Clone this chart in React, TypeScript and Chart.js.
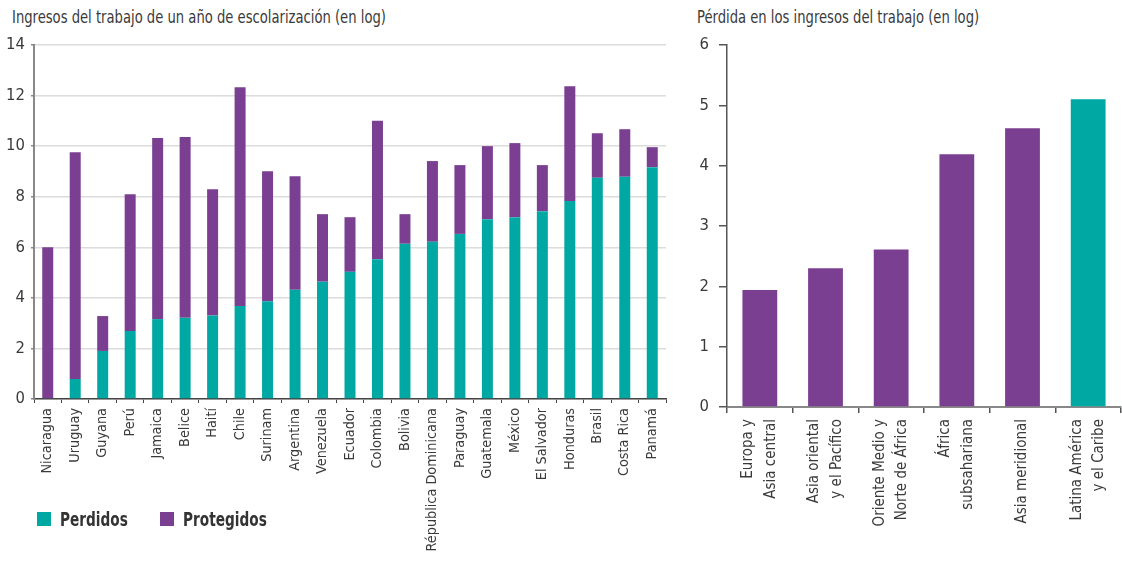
import React, { useEffect, useRef } from "react";
import { Chart, registerables } from "chart.js";

Chart.register(...registerables);

const countries = [
  "Nicaragua", "Uruguay", "Guyana", "Perú", "Jamaica", "Belice", "Haití", "Chile",
  "Surinam", "Argentina", "Venezuela", "Ecuador", "Colombia", "Bolivia",
  "Républica Dominicana", "Paraguay", "Guatemala", "México", "El Salvador",
  "Honduras", "Brasil", "Costa Rica", "Panamá",
];
const perdidos = [0, 0.79, 1.9, 2.69, 3.16, 3.21, 3.3, 3.68, 3.87, 4.32, 4.64, 5.03, 5.53, 6.14, 6.22, 6.53, 7.11, 7.19, 7.43, 7.83, 8.75, 8.79, 9.17];
const protegidos = [6.0, 8.97, 1.38, 5.41, 7.16, 7.15, 5.0, 8.65, 5.14, 4.49, 2.67, 2.16, 5.47, 1.17, 3.19, 2.72, 2.89, 2.93, 1.82, 4.54, 1.76, 1.88, 0.79];

const regions = [
  ["Europa y", "Asia central"],
  ["Asia oriental", "y el Pacífico"],
  ["Oriente Medio y", "Norte de África"],
  ["África", "subsahariana"],
  ["Asia meridional"],
  ["Latina América", "y el Caribe"],
];
const perdida = [1.94, 2.3, 2.61, 4.19, 4.62, 5.1];
const highlightIndex = [5];

const leftTitle = "Ingresos del trabajo de un año de escolarización (en log)";
const rightTitle = "Pérdida en los ingresos del trabajo (en log)";

const TEAL = "#00A8A3";
const PURPLE = "#7A3F91";
const TEXT = "#3a3a3a";
const FONT = "'Liberation Sans Narrow', 'DejaVu Sans Condensed', 'Roboto Condensed', Roboto, sans-serif";
const RIGHT_LABEL_SIZE = 15;
const RIGHT_LABEL_LH = 1.5;

export default function App() {
  const leftRef = useRef<HTMLCanvasElement>(null);
  const rightRef = useRef<HTMLCanvasElement>(null);

  useEffect(() => {
    const left = new Chart(leftRef.current!, {
      type: "bar",
      data: {
        labels: countries,
        datasets: [
          { label: "Perdidos", data: perdidos, backgroundColor: TEAL, barPercentage: 0.4, categoryPercentage: 1 },
          { label: "Protegidos", data: protegidos, backgroundColor: PURPLE, barPercentage: 0.4, categoryPercentage: 1 },
        ],
      },
      options: {
        animation: false,
        responsive: false,
        layout: { padding: { top: 45, left: 0, right: 14, bottom: 0 } },
        plugins: { legend: { display: false }, tooltip: { enabled: false }, title: { display: false } },
        scales: {
          x: {
            stacked: true,
            grid: { display: true, drawOnChartArea: false, offset: true, tickLength: 4, color: "#444", lineWidth: 1 },
            border: { display: true, color: "#444", width: 1.5 },
            ticks: { color: TEXT, font: { family: FONT, size: 14.3 }, minRotation: 90, maxRotation: 90, autoSkip: false, padding: 5 },
            afterFit: (s: any) => { s.height = 162; s.paddingLeft = 0; s.paddingRight = 0; },
          },
          y: {
            stacked: true,
            min: 0,
            max: 14,
            grid: { color: "#dcdcdc", lineWidth: 1.5, tickLength: 3, tickColor: "#888" },
            border: { display: true, color: "#888", width: 2 },
            ticks: { stepSize: 2, color: TEXT, font: { family: FONT, size: 16.5 }, padding: 6 },
            afterFit: (s: any) => { s.width = 34; },
          },
        },
      },
    });

    const right = new Chart(rightRef.current!, {
      type: "bar",
      data: {
        labels: regions as any,
        datasets: [
          {
            label: "Pérdida",
            data: perdida,
            backgroundColor: perdida.map((_, i) => (highlightIndex.includes(i) ? TEAL : PURPLE)),
            barPercentage: 0.53,
            categoryPercentage: 1,
          },
        ],
      },
      options: {
        animation: false,
        responsive: false,
        layout: { padding: { top: 45, left: 0, right: 1, bottom: 0 } },
        plugins: { legend: { display: false }, tooltip: { enabled: false }, title: { display: false } },
        scales: {
          x: {
            grid: { display: true, drawOnChartArea: false, offset: true, tickLength: 6, color: "#555", lineWidth: 1.5 },
            border: { display: true, color: "#888", width: 2 },
            ticks: {
              color: TEXT,
              font: { family: FONT, size: RIGHT_LABEL_SIZE, lineHeight: RIGHT_LABEL_LH },
              minRotation: 90,
              maxRotation: 90,
              autoSkip: false,
              padding: 6,
            },
            afterFit: (s: any) => { s.height = 154; s.paddingLeft = 0; s.paddingRight = 0; },
            afterUpdate: (s: any) => {
              if (s.__centered) return;
              s.__centered = true;
              const orig = s._computeLabelItems.bind(s);
              s._computeLabelItems = (ca: any) => {
                const items = orig(ca);
                const lh = RIGHT_LABEL_SIZE * RIGHT_LABEL_LH;
                items.forEach((it: any) => {
                  const n = Array.isArray(it.label) ? it.label.length : 1;
                  if (n > 1 && it.options && it.options.translation) {
                    const [tx, ty] = it.options.translation;
                    it.options.translation = [tx - ((n - 1) * lh) / 2, ty];
                  }
                });
                return items;
              };
            },
          },
          y: {
            min: 0,
            max: 6,
            grid: { display: true, drawOnChartArea: false, tickLength: 8, color: "#555", lineWidth: 1.5 },
            border: { display: true, color: "#555", width: 1.5 },
            ticks: { stepSize: 1, color: TEXT, font: { family: FONT, size: 16.5 }, padding: 10 },
            afterFit: (s: any) => { s.width = 47; },
          },
        },
      },
    });

    return () => {
      left.destroy();
      right.destroy();
    };
  }, []);

  const titleStyle: React.CSSProperties = {
    position: "absolute",
    top: 6,
    fontFamily: FONT,
    fontSize: 17,
    color: TEXT,
    whiteSpace: "nowrap",
    lineHeight: "22px",
    transform: "scaleX(0.86)",
    transformOrigin: "left top",
  };
  const legendItem: React.CSSProperties = {
    position: "absolute",
    top: 507,
    display: "flex",
    alignItems: "center",
    fontFamily: FONT,
    fontWeight: "bold",
    fontSize: 19,
    color: "#333",
    whiteSpace: "nowrap",
    lineHeight: "24px",
  };
  const sw = (c: string): React.CSSProperties => ({ width: 14, height: 14, background: c, marginRight: 9, display: "inline-block" });
  const legendText: React.CSSProperties = { display: "inline-block", transform: "scaleX(0.8)", transformOrigin: "left center" };

  return (
    <div style={{ position: "absolute", left: 0, top: 0, width: 1122, height: 561, background: "#fff", overflow: "hidden" }}>
      <div style={{ ...titleStyle, left: 12 }}>{leftTitle}</div>
      <div style={{ ...titleStyle, left: 697 }}>{rightTitle}</div>
      <canvas ref={leftRef} width={680} height={561} style={{ position: "absolute", left: 0, top: 0 }} />
      <canvas ref={rightRef} width={442} height={561} style={{ position: "absolute", left: 680, top: 0 }} />
      <div style={{ ...legendItem, left: 37 }}>
        <span style={sw(TEAL)} />
        <span style={legendText}>Perdidos</span>
      </div>
      <div style={{ ...legendItem, left: 160 }}>
        <span style={sw(PURPLE)} />
        <span style={legendText}>Protegidos</span>
      </div>
    </div>
  );
}
